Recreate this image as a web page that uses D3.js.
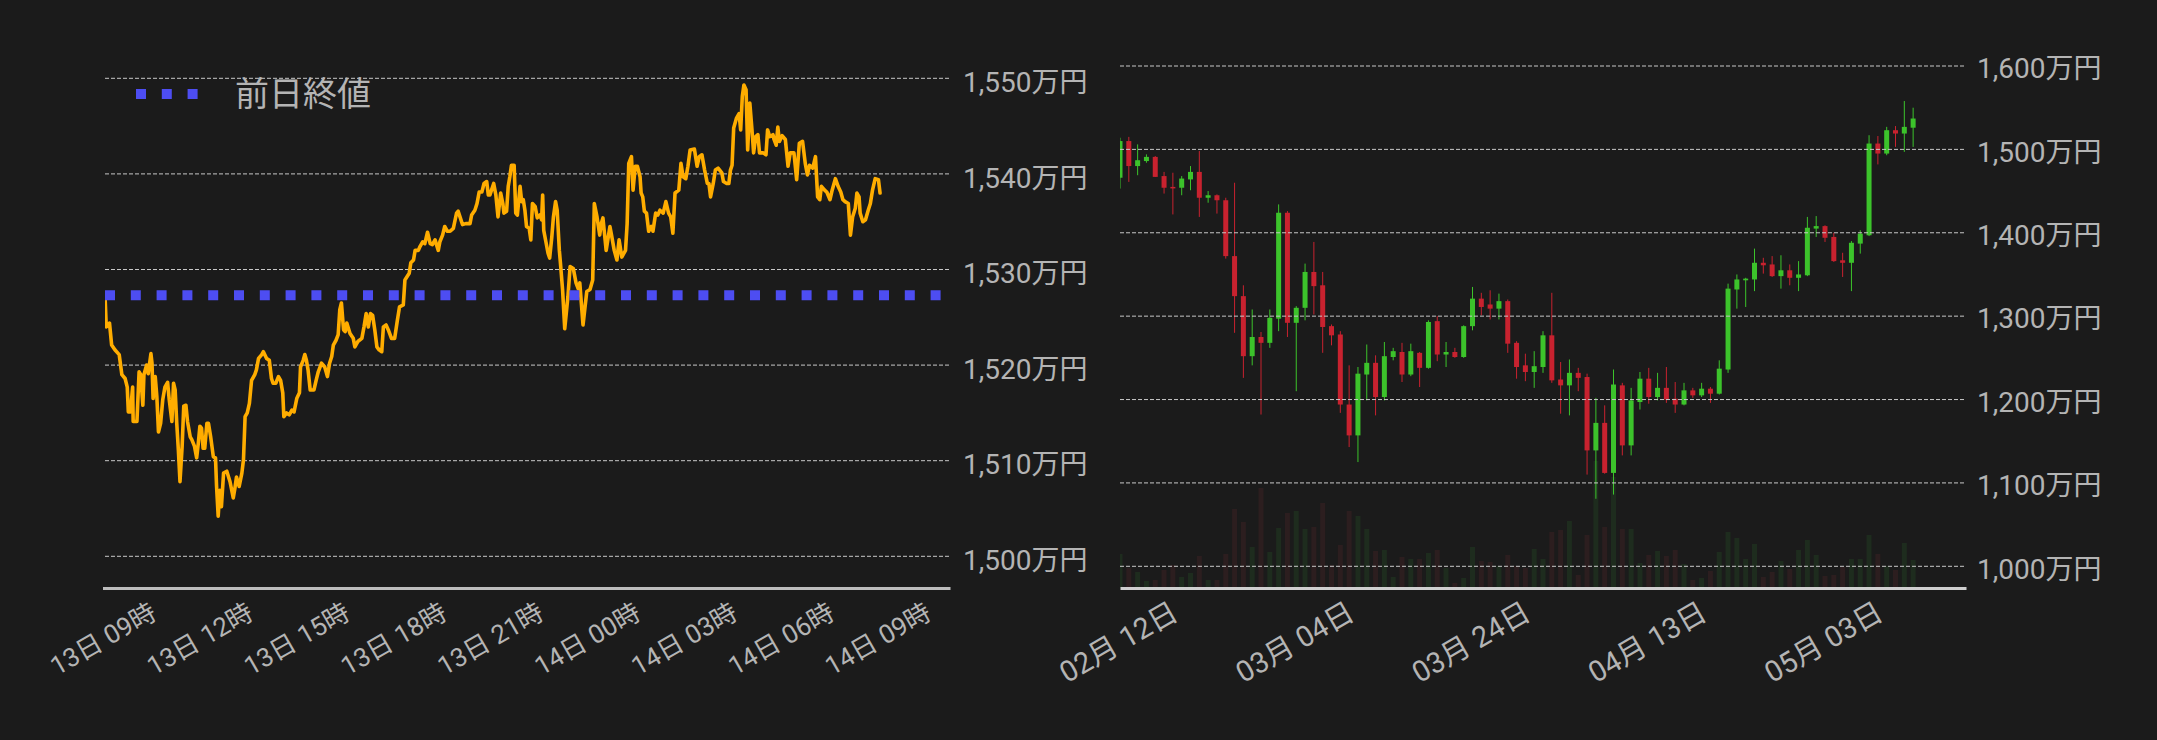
<!DOCTYPE html>
<html><head><meta charset="utf-8">
<script src="https://cdn.jsdelivr.net/npm/d3@7"></script>
<style>
html,body{margin:0;padding:0;background:#1b1b1b;}
svg{display:block;}
text{font-family:Roboto,"Noto Sans CJK JP",sans-serif;}
</style></head><body>
<svg id="chart" width="2157" height="740"></svg>
<script>
// ---------------- DATA ----------------
// Intraday (left): minutes after 2025-05-13 09:00, price in 万円
const intradayStart = "2025-05-13 09:00";
const lineMinutes = [
5,7,13,17,23,31,36,42,46,48,
52,56,57,64,68,71,75,77,82,85,
90,92,94,98,101,104,108,112,116,121,
124,129,132,135,138,141,144,148,151,155,
158,163,166,171,175,178,181,184,187,190,
194,197,201,206,210,212,215,218,221,225,
231,237,243,246,249,254,259,262,265,269,
273,277,283,286,290,296,299,305,310,314,
317,322,327,331,335,337,342,347,352,356,
361,366,368,373,376,379,382,386,393,397,
401,407,413,418,422,426,429,434,438,441,
444,448,451,454,460,466,469,475,482,486,
490,494,498,502,506,510,514,519,522,527,
531,537,543,548,552,559,562,570,573,578,
581,587,590,595,599,604,609,613,618,624,
627,632,636,641,646,652,658,661,665,669,
675,683,686,692,696,700,705,709,714,717,
720,727,731,735,740,744,746,751,754,757,
760,765,768,771,776,779,782,785,788,793,
796,799,804,808,813,816,818,820,824,828,
831,835,838,842,845,849,851,855,859,865,
869,875,880,884,887,893,900,906,911,914,
919,924,927,930,936,943,946,951,956,960,
965,972,975,978,983,986,990,994,999,1001,
1004,1007,1011,1015,1020,1023,1028,1032,1036,1042,
1047,1052,1056,1060,1064,1071,1075,1079,1084,1088,
1092,1100,1105,1109,1114,1119,1124,1127,1130,1135,
1139,1144,1151,1154,1160,1164,1167,1170,1173,1178,
1183,1186,1189,1192,1196,1199,1203,1207,1210,1214,
1218,1221,1228,1233,1236,1240,1246,1248,1252,1255,
1258,1263,1269,1274,1278,1285,1290,1295,1301,1306,
1310,1314,1320,1325,1329,1333,1336,1342,1346,1352,
1356,1362,1367,1372,1376,1380,1386,1390,1394,1399,
1402,1406,1408,1413,1418,1423,1427,1431,1436,1442,
1445];
const linePrices = [
1526.8,1524.0,1524.4,1522.1,1521.6,1521.1,1519.0,1518.6,1517.7,1515.1,
1515.1,1517.7,1514.1,1514.1,1519.3,1519.0,1515.8,1519.0,1520.0,1519.1,
1521.2,1520.2,1516.5,1518.8,1516.7,1513.0,1513.9,1516.4,1517.7,1518.2,
1516.4,1514.1,1518.1,1517.4,1513.9,1511.1,1507.8,1511.5,1515.7,1515.8,
1514.1,1512.5,1512.2,1511.5,1510.3,1511.8,1513.6,1513.4,1511.3,1511.3,
1513.9,1513.9,1512.5,1510.4,1510.3,1507.3,1504.2,1506.9,1505.2,1508.7,
1508.9,1507.8,1506.1,1507.1,1508.3,1507.3,1508.7,1510.1,1514.6,1515.0,
1516.0,1518.4,1519.0,1519.5,1520.7,1521.1,1521.4,1520.7,1520.5,1518.6,
1518.1,1518.1,1518.8,1518.4,1517.1,1514.6,1515.0,1514.8,1515.3,1515.1,
1516.5,1517.1,1519.8,1520.5,1521.1,1520.5,1519.5,1517.4,1517.4,1518.4,
1519.3,1520.2,1519.8,1518.8,1520.2,1520.9,1522.1,1522.6,1523.2,1525.8,
1526.5,1523.7,1523.5,1524.4,1523.3,1522.8,1521.9,1522.5,1522.8,1524.0,
1525.4,1524.0,1525.4,1525.2,1523.7,1521.9,1521.6,1521.4,1524.0,1524.2,
1523.7,1522.8,1522.8,1524.7,1526.1,1526.3,1528.9,1529.6,1530.7,1531.0,
1532.0,1532.0,1532.4,1532.9,1532.7,1533.9,1532.7,1532.6,1533.1,1532.0,
1532.9,1533.6,1534.5,1534.0,1534.0,1534.3,1535.9,1536.1,1535.4,1534.7,
1534.8,1534.8,1535.7,1536.2,1536.9,1538.1,1538.1,1539.0,1539.2,1537.8,
1537.8,1539.0,1537.8,1535.5,1538.0,1536.9,1535.9,1536.1,1538.7,1539.7,
1540.9,1540.9,1535.9,1535.7,1538.7,1537.1,1537.3,1536.2,1534.5,1534.3,
1533.1,1536.9,1536.6,1535.4,1535.7,1535.2,1537.8,1534.1,1532.9,1531.7,
1531.2,1533.4,1535.5,1537.1,1536.2,1532.0,1530.7,1527.9,1523.8,1527.2,
1530.3,1530.1,1528.6,1528.0,1528.6,1524.2,1527.7,1527.9,1528.9,1536.9,
1535.5,1533.6,1534.8,1535.4,1532.0,1534.5,1533.6,1532.0,1531.0,1533.1,
1531.3,1532.0,1534.8,1541.1,1541.8,1538.3,1540.8,1540.8,1539.7,1538.0,
1537.6,1536.1,1535.9,1534.0,1534.5,1534.0,1535.9,1535.7,1536.2,1535.9,
1537.1,1535.9,1535.5,1533.8,1538.0,1538.3,1541.1,1539.7,1539.5,1540.8,
1542.5,1542.6,1540.8,1541.8,1542.0,1540.4,1539.0,1539.0,1537.6,1539.0,
1540.4,1540.6,1540.1,1539.2,1539.0,1539.0,1540.4,1540.9,1544.8,1545.8,
1546.3,1544.6,1548.1,1549.3,1548.8,1542.5,1547.4,1544.6,1542.2,1543.9,
1544.1,1542.2,1542.2,1542.0,1544.6,1543.9,1544.1,1543.6,1543.0,1544.9,
1543.4,1544.0,1543.6,1540.8,1542.2,1542.2,1539.4,1543.2,1543.4,1541.1,
1539.9,1540.9,1540.6,1541.8,1537.6,1537.3,1538.7,1538.3,1538.1,1537.3,
1538.3,1539.5,1538.7,1538.1,1537.3,1537.1,1536.9,1533.6,1535.5,1536.4,
1538.0,1537.6,1535.9,1535.0,1535.2,1536.2,1536.9,1538.3,1539.5,1539.4,
1538.0];
const prevClose = 1527.3;
const prevCloseLabel = "前日終値";
const leftPriceTicks = [1500, 1510, 1520, 1530, 1540, 1550];
const leftTimeTicks = ["2025-05-13 09:00","2025-05-13 12:00","2025-05-13 15:00","2025-05-13 18:00",
  "2025-05-13 21:00","2025-05-14 00:00","2025-05-14 03:00","2025-05-14 06:00","2025-05-14 09:00"];

// Daily candles (right): 2025-02-12 .. 2025-05-13, 万円
const candleStart = "2025-02-12", candleEnd = "2025-05-14";
const open = [1466,1510,1480,1486,1491,1468,1455,1454,1464,1473,
1442,1445,1439,1372,1324,1252,1275,1268,1297,1424,
1292,1310,1353,1337,1288,1278,1194,1157,1230,1244,
1203,1251,1257,1230,1256,1238,1294,1254,1257,1251,
1288,1321,1314,1309,1318,1268,1241,1233,1239,1277,
1224,1217,1232,1227,1139,1172,1112,1217,1145,1197,
1225,1203,1214,1201,1194,1211,1205,1213,1207,1236,
1332,1343,1344,1364,1362,1348,1355,1346,1349,1405,
1408,1395,1367,1364,1387,1397,1507,1495,1523,1519,
1526];
const high = [1514,1515,1506,1494,1492,1473,1472,1468,1480,1498,
1450,1446,1442,1460,1337,1308,1281,1308,1434,1426,
1312,1363,1389,1353,1290,1282,1241,1239,1266,1253,
1269,1262,1268,1267,1257,1295,1300,1269,1262,1289,
1335,1328,1331,1327,1320,1270,1255,1258,1282,1328,
1245,1248,1238,1231,1202,1193,1236,1220,1214,1233,
1238,1232,1239,1221,1220,1214,1220,1215,1247,1339,
1350,1346,1381,1370,1372,1373,1362,1366,1419,1420,
1409,1400,1376,1390,1403,1517,1516,1527,1528,1558,
1550];
const low = [1453,1461,1469,1484,1467,1447,1422,1445,1451,1419,
1436,1423,1369,1280,1226,1241,1182,1262,1282,1275,
1210,1295,1302,1256,1265,1184,1143,1125,1199,1181,
1199,1247,1221,1228,1215,1237,1246,1239,1250,1250,
1283,1301,1296,1296,1256,1225,1222,1214,1232,1220,
1183,1181,1210,1110,1081,1111,1086,1133,1133,1188,
1195,1199,1196,1184,1193,1202,1203,1196,1206,1232,
1309,1311,1330,1351,1347,1333,1337,1330,1348,1395,
1389,1365,1347,1330,1375,1396,1482,1493,1503,1497,
1503];
const close = [1510,1480,1487,1491,1467,1454,1454,1465,1473,1442,
1445,1439,1372,1324,1252,1275,1268,1298,1424,1292,
1310,1353,1336,1287,1277,1194,1157,1231,1244,1203,
1252,1258,1230,1258,1238,1293,1254,1257,1251,1288,
1321,1311,1309,1318,1267,1239,1233,1240,1277,1223,
1217,1232,1226,1139,1172,1112,1218,1145,1199,1225,
1203,1214,1200,1194,1211,1205,1213,1207,1237,1333,
1344,1345,1364,1361,1348,1355,1346,1350,1406,1408,
1394,1366,1364,1388,1399,1507,1495,1523,1519,1527,
1537];
const volume = [34,20,16,7,8,18,23,11,15,32,
8,8,34,79,66,41,100,36,60,75,
77,59,61,85,23,43,77,72,59,37,
38,11,31,29,29,35,38,20,5,10,
41,27,26,22,33,22,20,39,29,56,
58,67,13,53,127,61,111,59,59,25,
33,37,32,38,24,8,10,17,36,56,
50,29,44,11,16,27,19,38,48,33,
12,13,21,29,29,53,34,22,18,45,
28];
const rightPriceTicks = [1000, 1100, 1200, 1300, 1400, 1500, 1600];
const rightDateTicks = ["2025-02-12","2025-03-04","2025-03-24","2025-04-13","2025-05-03"];

// ---------------- STYLE ----------------
const BG = "#1b1b1b", TXT = "#b4b4b4", GRID = "#c8c8c8", AXIS = "#bdbdbd";
const ORANGE = "#ffad00", BLUE = "#4d4df2", UP = "#3cc32b", DOWN = "#c8222f";
const UPV = "#1e2c1e", DOWNV = "#2c1e1f";
const FONT = 'Roboto,"Noto Sans CJK JP",sans-serif';

const svg = d3.select("#chart");
svg.append("rect").attr("width", 2157).attr("height", 740).attr("fill", BG);

const parseT = d3.timeParse("%Y-%m-%d %H:%M");
const parseD = d3.timeParse("%Y-%m-%d");
const fmtL = d3.timeFormat("%d日 %H時");
const fmtR = d3.timeFormat("%m月 %d日");
const fmtP = v => d3.format(",")(v) + "万円";

// ---------------- LEFT CHART ----------------
const L = {x0: 105, x1: 950, base: 588};
const t0 = parseT(intradayStart);
const xL = d3.scaleTime().domain([t0, d3.timeMinute.offset(t0, 1575)]).range([102.5, 950]);
const yL = d3.scaleLinear().domain([1500, 1550]).range([556.3, 78.3]);

svg.append("g").selectAll("line").data(leftPriceTicks).join("line")
  .attr("x1", L.x0).attr("x2", L.x1 - 1)
  .attr("y1", d => yL(d)).attr("y2", d => yL(d))
  .attr("stroke", GRID).attr("stroke-width", 1).attr("stroke-dasharray", "4,2");

svg.append("clipPath").attr("id", "clipL").append("rect")
  .attr("x", L.x0).attr("y", 0).attr("width", L.x1 - L.x0).attr("height", L.base);

const pts = lineMinutes.map((m, i) => ({t: d3.timeMinute.offset(t0, m), v: linePrices[i]}));
svg.append("path").datum(pts).attr("clip-path", "url(#clipL)")
  .attr("fill", "none").attr("stroke", ORANGE).attr("stroke-width", 3.6)
  .attr("stroke-linejoin", "round").attr("stroke-linecap", "round")
  .attr("d", d3.line().x(d => xL(d.t)).y(d => yL(d.v)));

// previous close dotted line
svg.append("line").attr("x1", L.x0).attr("x2", L.x1)
  .attr("y1", yL(prevClose)).attr("y2", yL(prevClose))
  .attr("stroke", BLUE).attr("stroke-width", 10).attr("stroke-dasharray", "10,15.8");

// legend
svg.append("line").attr("x1", 136).attr("x2", 198).attr("y1", 94).attr("y2", 94)
  .attr("stroke", BLUE).attr("stroke-width", 10).attr("stroke-dasharray", "10,15.8");
svg.append("text").attr("x", 235).attr("y", 94).attr("dy", "0.36em")
  .style("font-size", "34px").attr("fill", TXT).text(prevCloseLabel);

// left y labels
const gyL = svg.append("g").attr("transform", `translate(${L.x1},0)`)
  .call(d3.axisRight(yL).tickValues(leftPriceTicks).tickSize(0).tickPadding(13).tickFormat(fmtP));
gyL.select(".domain").remove();
gyL.selectAll("text").attr("dy", "0.47em").style("font-size", "28px").attr("fill", TXT)
  .style("font-family", FONT);

// left x axis
const gxL = svg.append("g").attr("transform", `translate(0,${L.base})`)
  .call(d3.axisBottom(xL).tickValues(leftTimeTicks.map(parseT)).tickFormat(fmtL).tickSize(0).tickSizeOuter(0));
gxL.select(".domain").attr("stroke", AXIS).attr("stroke-width", 3);
gxL.selectAll("text").attr("y", 0).attr("dy", "0.35em").attr("text-anchor", "middle")
  .attr("transform", "translate(0,51) rotate(-30)")
  .style("font-size", "26px").attr("fill", TXT)
  .style("font-family", FONT);

// ---------------- RIGHT CHART ----------------
const R = {x0: 1120, x1: 1966, base: 588};
const d0 = parseD(candleStart);
const dates = d3.timeDay.range(d0, parseD(candleEnd));
const xR = d3.scaleTime().domain([d0, d3.timeDay.offset(d0, 96)]).range([R.x0, R.x1]);
const yR = d3.scaleLinear().domain([1000, 1600]).range([566.3, 66]);
const yV = d3.scaleLinear().domain([0, 130]).range([R.base, R.base - 130]);

svg.append("clipPath").attr("id", "clipR").append("rect")
  .attr("x", R.x0).attr("y", 0).attr("width", R.x1 - R.x0).attr("height", R.base);

const candles = dates.map((d, i) => ({d, o: open[i], h: high[i], l: low[i], c: close[i], v: volume[i]}));
const gR = svg.append("g").attr("clip-path", "url(#clipR)");
const bw = 5;

// volume
gR.append("g").selectAll("rect").data(candles).join("rect")
  .attr("x", d => xR(d.d) - bw / 2).attr("width", bw)
  .attr("y", d => yV(d.v)).attr("height", d => R.base - yV(d.v))
  .attr("fill", d => d.c >= d.o ? UPV : DOWNV);

// grid
svg.append("g").selectAll("line").data(rightPriceTicks).join("line")
  .attr("x1", R.x0).attr("x2", R.x1)
  .attr("y1", d => yR(d)).attr("y2", d => yR(d))
  .attr("stroke", GRID).attr("stroke-width", 1).attr("stroke-dasharray", "4,2");

// candles
const gc = gR.append("g");
gc.selectAll("line").data(candles).join("line")
  .attr("x1", d => xR(d.d)).attr("x2", d => xR(d.d))
  .attr("y1", d => yR(d.h)).attr("y2", d => yR(d.l))
  .attr("stroke", d => d.c >= d.o ? UP : DOWN).attr("stroke-width", 1);
gc.selectAll("rect").data(candles).join("rect")
  .attr("x", d => xR(d.d) - bw / 2).attr("width", bw)
  .attr("y", d => yR(Math.max(d.o, d.c)))
  .attr("height", d => Math.max(1.5, Math.abs(yR(d.o) - yR(d.c))))
  .attr("fill", d => d.c >= d.o ? UP : DOWN);

// right y labels
const gyR = svg.append("g").attr("transform", `translate(${R.x1},0)`)
  .call(d3.axisRight(yR).tickValues(rightPriceTicks).tickSize(0).tickPadding(11).tickFormat(fmtP));
gyR.select(".domain").remove();
gyR.selectAll("text").attr("dy", "0.42em").style("font-size", "28px").attr("fill", TXT)
  .style("font-family", FONT);

// right x axis
const gxR = svg.append("g").attr("transform", `translate(0,${R.base})`)
  .call(d3.axisBottom(xR).tickValues(rightDateTicks.map(parseD)).tickFormat(fmtR).tickSize(0).tickSizeOuter(0));
gxR.select(".domain").attr("stroke", "#cfcfcf").attr("stroke-width", 3);
gxR.selectAll("text").attr("y", 0).attr("dy", "0.35em").attr("text-anchor", "middle")
  .attr("transform", "translate(-2,54) rotate(-30)")
  .style("font-size", "29px").attr("fill", TXT)
  .style("font-family", FONT);
</script>
</body></html>
